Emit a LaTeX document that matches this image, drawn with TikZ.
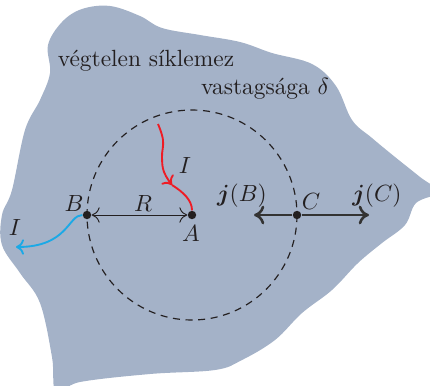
\documentclass[tikz,border=0pt]{standalone}
\usepackage{amsmath}
\usepackage{bm}
\usetikzlibrary{arrows.meta}
\definecolor{ink}{HTML}{231F20}
\definecolor{plate}{HTML}{A4B2C8}
\definecolor{jgray}{HTML}{333333}
\definecolor{inflow}{HTML}{EE1C25}
\definecolor{outflow}{HTML}{1BA9E6}
\tikzset{
  >={To[length=3.4pt,width=6.6pt]},
  dot/.style={circle,fill=ink,inner sep=0pt,minimum size=3.6pt},
  lbl/.style={text=ink,inner sep=1pt},
  span/.style={<->,draw=ink,line width=.4pt},
  current/.style={->,line width=.8pt},
  density/.style={-{To[length=4.4pt,width=8pt]},draw=jgray,line width=1.1pt},
  rim/.style={draw=ink,dash pattern=on 3pt off 2.4pt,line width=.5pt}
}
\begin{document}
\begin{tikzpicture}[x=0.427pt,y=-0.427pt]
  \useasboundingbox (0,0) rectangle (430,385);
  % the plate
  \begin{scope}
    \clip (0,0) rectangle (430,385);
    \fill[plate] plot[smooth cycle,tension=.6] coordinates {
      (48,45) (62,22) (82,9) (110,6) (140,16) (162,28) (200,35) (240,42)
      (272,53) (312,64) (336,86) (352,120) (372,138) (395,157) (420,177)
      (438,192) (416,203) (405,225) (382,243) (358,263) (332,290) (302,313)
      (275,340) (242,360) (215,370) (150,374) (80,382) (56,392) (52,357)
      (40,303) (20,273) (2,245) (2,215) (12,190) (25,130) (40,100) (50,73)};
  \end{scope}

  \node[lbl] (t1) at (146,61) {végtelen síklemez};
  \node[lbl] (t2) at (265,89) {vastagsága $\delta$};

  \node[dot] (A) at (192,215) {};
  \node[dot] (B) at (87,215) {};
  \node[dot] (C) at (297,215) {};
  \draw[rim] (A.center) circle[radius=105];

  \node[lbl] (la) at (191,233) {$A$};
  \node[lbl] (lb) at (74,203) {$B$};
  \node[lbl] (lc) at (311,201) {$C$};
  \node[lbl] (lr) at (143,203) {$R$};
  \node[lbl] (li) at (185,165) {$I$};
  \node[lbl] (lo) at (15,227) {$I$};
  \node[lbl] (ljb) at (242,196) {$\bm{j}(B)$};
  \node[lbl] (ljc) at (377,196) {$\bm{j}(C)$};

  \coordinate (r0) at (158,124);
  \coordinate (rm) at (172,185);
  \coordinate (b1) at (16,247);
  \coordinate (jb) at (254,215);
  \coordinate (jc) at (369,215);

  \draw[span] (B) -- (A);
  \draw[current,draw=inflow] plot[smooth,tension=.7] coordinates {(r0) (163,140) (162,157) (164,172) (rm)};
  \draw[current,-,draw=inflow] (rm) .. controls (183,192) and (192,200) .. (A);
  \draw[current,draw=outflow] (B) .. controls (68,215) and (68,247) .. (b1);
  \draw[density] (C) -- (jb);
  \draw[density] (C) -- (jc);
\end{tikzpicture}
\end{document}
